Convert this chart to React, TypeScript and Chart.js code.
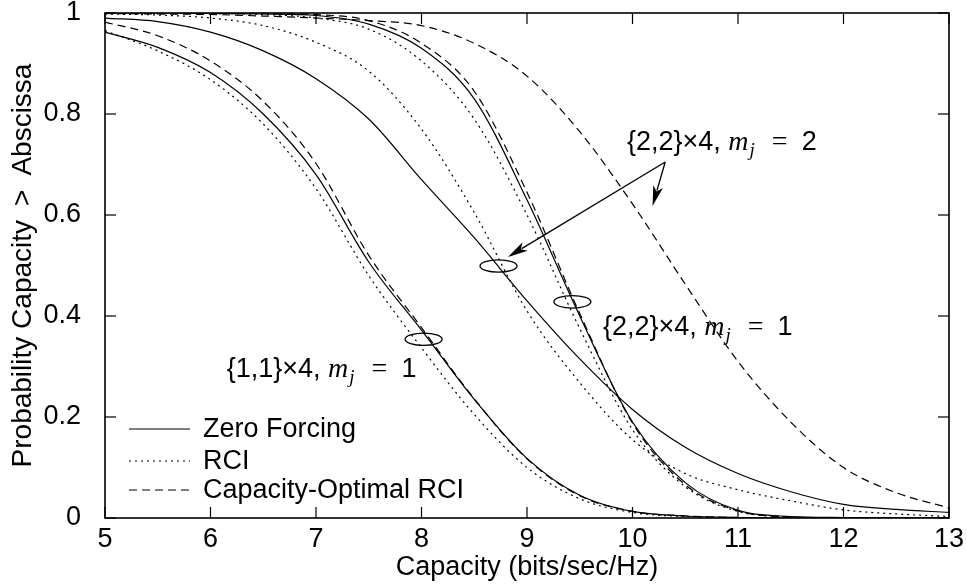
import React, { useEffect, useRef } from "react";
import { Chart, registerables } from "chart.js";

Chart.register(...registerables);

// ---------- data ----------
const capacity = [5, 5.5, 6, 6.5, 7, 7.5, 8, 8.5, 9, 9.5, 10, 10.5, 11, 11.5, 12, 12.5, 13];

// {1,1}x4, m_j = 1
const zf11 = [0.962, 0.932, 0.882, 0.8, 0.68, 0.507, 0.372, 0.235, 0.118, 0.045, 0.013, 0.004, 0.001, 0, 0, 0, 0];
const rci11 = [0.965, 0.925, 0.868, 0.78, 0.652, 0.48, 0.337, 0.205, 0.1, 0.038, 0.011, 0.003, 0.001, 0, 0, 0, 0];
const co11 = [0.982, 0.955, 0.905, 0.825, 0.702, 0.52, 0.377, 0.236, 0.117, 0.044, 0.013, 0.004, 0.001, 0, 0, 0, 0];

// {2,2}x4, m_j = 1
const zf22a = [1.0, 1.0, 0.999, 0.998, 0.995, 0.978, 0.93, 0.83, 0.63, 0.4, 0.19, 0.07, 0.015, 0.003, 0.001, 0, 0];
const rci22a = [1.0, 1.0, 0.999, 0.997, 0.99, 0.968, 0.905, 0.79, 0.6, 0.375, 0.175, 0.062, 0.013, 0.002, 0, 0, 0];
const co22a = [1.0, 1.0, 1.0, 0.999, 0.997, 0.985, 0.94, 0.845, 0.645, 0.405, 0.188, 0.066, 0.014, 0.002, 0, 0, 0];

// {2,2}x4, m_j = 2
const zf22b = [0.99, 0.983, 0.962, 0.925, 0.87, 0.79, 0.67, 0.555, 0.43, 0.315, 0.215, 0.14, 0.088, 0.052, 0.027, 0.017, 0.011];
const rci22b = [0.998, 0.996, 0.99, 0.975, 0.942, 0.885, 0.77, 0.605, 0.41, 0.268, 0.155, 0.088, 0.056, 0.034, 0.016, 0.008, 0.003];
const co22b = [0.999, 0.998, 0.997, 0.994, 0.99, 0.985, 0.975, 0.94, 0.875, 0.765, 0.622, 0.463, 0.31, 0.19, 0.1, 0.05, 0.02];

const xTicks = [5, 6, 7, 8, 9, 10, 11, 12, 13];
const yTicks = [0, 0.2, 0.4, 0.6, 0.8, 1];

const methodLabels = ["Zero Forcing", "RCI", "Capacity-Optimal RCI"];
const methodDashes = [[], [2, 4], [8, 5]];

// annotations (data coordinates)
const ellipseCenters = [
  [8.02, 0.354],
  [8.73, 0.499],
  [9.43, 0.428],
];
const arrowStart = [10.31, 0.705];
const arrowEnds = [
  [8.82, 0.517],
  [10.19, 0.618],
];
const labelPrefixes = ["{1,1}\u00d74, ", "{2,2}\u00d74, ", "{2,2}\u00d74, "];
const labelValues = ["1", "1", "2"];
const labelX = [6.154, 9.72, 9.948];
const labelY = [0.279, 0.362, 0.729];

const SANS = '"Liberation Sans", Arial, Helvetica, sans-serif';
const SERIF = '"Liberation Serif", "DejaVu Serif", serif';
const FS = 27;

function toPts(vals: number[]) {
  return capacity.map((c, i) => ({ x: c, y: vals[i] }));
}

const overlay = {
  id: "overlay",
  afterDraw(chart: any) {
    const { ctx, chartArea: a } = chart;
    const xs = chart.scales.x;
    const ys = chart.scales.y;
    const px = (v: number) => xs.getPixelForValue(v);
    const py = (v: number) => ys.getPixelForValue(v);
    ctx.save();
    ctx.strokeStyle = "#000";
    ctx.fillStyle = "#000";
    ctx.setLineDash([]);

    const line = (x1: number, y1: number, x2: number, y2: number) => {
      ctx.beginPath();
      ctx.moveTo(x1, y1);
      ctx.lineTo(x2, y2);
      ctx.stroke();
    };

    // tick marks (inward, all four sides)
    const tl = 11;
    ctx.lineWidth = 1.2;
    xTicks.forEach((v) => {
      const p = px(v);
      line(p, a.bottom, p, a.bottom - tl);
      line(p, a.top, p, a.top + tl);
    });
    yTicks.forEach((v) => {
      const p = py(v);
      line(a.left, p, a.left + tl, p);
      line(a.right, p, a.right - tl, p);
    });

    // border
    ctx.lineWidth = 1.6;
    ctx.strokeRect(a.left, a.top, a.right - a.left, a.bottom - a.top);

    // ellipses
    ctx.lineWidth = 1.3;
    ellipseCenters.forEach(([cx, cy]) => {
      ctx.beginPath();
      ctx.ellipse(px(cx), py(cy), 18.5, 6.2, 0, 0, Math.PI * 2);
      ctx.stroke();
    });

    // arrows
    const sx = px(arrowStart[0]);
    const sy = py(arrowStart[1]);
    arrowEnds.forEach(([ex0, ey0]) => {
      const ex = px(ex0);
      const ey = py(ey0);
      const ang = Math.atan2(ey - sy, ex - sx);
      const hl = 20;
      const hw = 5;
      ctx.lineWidth = 1.3;
      line(sx, sy, ex - Math.cos(ang) * hl * 0.8, ey - Math.sin(ang) * hl * 0.8);
      ctx.beginPath();
      ctx.moveTo(ex, ey);
      ctx.lineTo(ex - Math.cos(ang) * hl - Math.sin(ang) * hw, ey - Math.sin(ang) * hl + Math.cos(ang) * hw);
      ctx.lineTo(ex - Math.cos(ang) * hl * 0.75, ey - Math.sin(ang) * hl * 0.75);
      ctx.lineTo(ex - Math.cos(ang) * hl + Math.sin(ang) * hw, ey - Math.sin(ang) * hl - Math.cos(ang) * hw);
      ctx.closePath();
      ctx.fill();
    });

    // math labels
    ctx.textBaseline = "alphabetic";
    ctx.textAlign = "left";
    labelPrefixes.forEach((pre, i) => {
      let x = px(labelX[i]);
      const b = py(labelY[i]);
      ctx.font = `${FS}px ${SANS}`;
      ctx.fillText(pre, x, b);
      x += ctx.measureText(pre).width;
      ctx.font = `italic ${FS + 1}px ${SERIF}`;
      ctx.fillText("m", x, b);
      x += ctx.measureText("m").width;
      ctx.font = `italic ${Math.round(FS * 0.7)}px ${SERIF}`;
      ctx.fillText("j", x + 1, b + 6);
      x += ctx.measureText("j").width + 4;
      ctx.font = `${FS + 1}px ${SERIF}`;
      ctx.fillText("\u2002=\u2002", x, b);
      x += ctx.measureText("\u2002=\u2002").width;
      ctx.font = `${FS}px ${SANS}`;
      ctx.fillText(labelValues[i], x, b);
    });

    // legend
    const rows = [429, 461, 490];
    ctx.font = `${FS}px ${SANS}`;
    ctx.textBaseline = "middle";
    methodLabels.forEach((lab, i) => {
      ctx.lineWidth = 1.2;
      ctx.setLineDash(methodDashes[i]);
      line(a.left + 24, rows[i], a.left + 85, rows[i]);
      ctx.setLineDash([]);
      ctx.fillText(lab, a.left + 98, rows[i] + 1);
    });

    ctx.restore();
  },
};

export default function App() {
  const ref = useRef<HTMLCanvasElement | null>(null);

  useEffect(() => {
    if (!ref.current) return;
    Chart.defaults.font.family = SANS;
    Chart.defaults.font.size = FS;
    Chart.defaults.color = "#000";

    const groups = [
      [zf11, rci11, co11],
      [zf22a, rci22a, co22a],
      [zf22b, rci22b, co22b],
    ];
    const datasets: any[] = [];
    groups.forEach((g, gi) => {
      g.forEach((vals, mi) => {
        datasets.push({
          label: methodLabels[mi] + " " + gi,
          data: toPts(vals),
          borderColor: "#000",
          borderWidth: 1.2,
          borderDash: methodDashes[mi],
          pointRadius: 0,
          fill: false,
          cubicInterpolationMode: "monotone",
        });
      });
    });

    const chart = new Chart(ref.current, {
      type: "line",
      data: { datasets },
      plugins: [overlay],
      options: {
        animation: false,
        responsive: false,
        maintainAspectRatio: false,
        layout: { padding: { top: 13, right: 18, left: 0, bottom: 0 } },
        plugins: { legend: { display: false }, tooltip: { enabled: false } },
        scales: {
          x: {
            type: "linear",
            min: 5,
            max: 13,
            grid: { display: false },
            border: { display: false },
            ticks: { stepSize: 1, padding: -3, font: { size: FS } },
            title: {
              display: true,
              text: "Capacity (bits/sec/Hz)",
              font: { size: FS, lineHeight: 1.0 },
              padding: { top: 0, bottom: 5 },
            },
            afterFit: (s: any) => {
              s.height = 68;
              s.paddingLeft = 0;
              s.paddingRight = 0;
            },
          },
          y: {
            type: "linear",
            min: 0,
            max: 1,
            grid: { display: false },
            border: { display: false },
            ticks: {
              stepSize: 0.2,
              padding: 16,
              font: { size: FS },
              callback: (v: any) => (v === 0 ? "0" : v === 1 ? "1" : Number(v).toFixed(1)),
            },
            title: {
              display: true,
              text: "Probability Capacity\u2002>\u2002Abscissa",
              font: { size: FS + 1, lineHeight: 1.0 },
              padding: { top: 9, bottom: 0 },
            },
            afterFit: (s: any) => {
              s.width = 105;
              s.paddingTop = 0;
              s.paddingBottom = 0;
            },
          },
        },
      },
    });
    return () => chart.destroy();
  }, []);

  return (
    <div style={{ position: "absolute", left: 0, top: 0, width: 967, height: 586, background: "#fff" }}>
      <canvas ref={ref} width={967} height={586} style={{ width: 967, height: 586, display: "block" }} />
    </div>
  );
}
